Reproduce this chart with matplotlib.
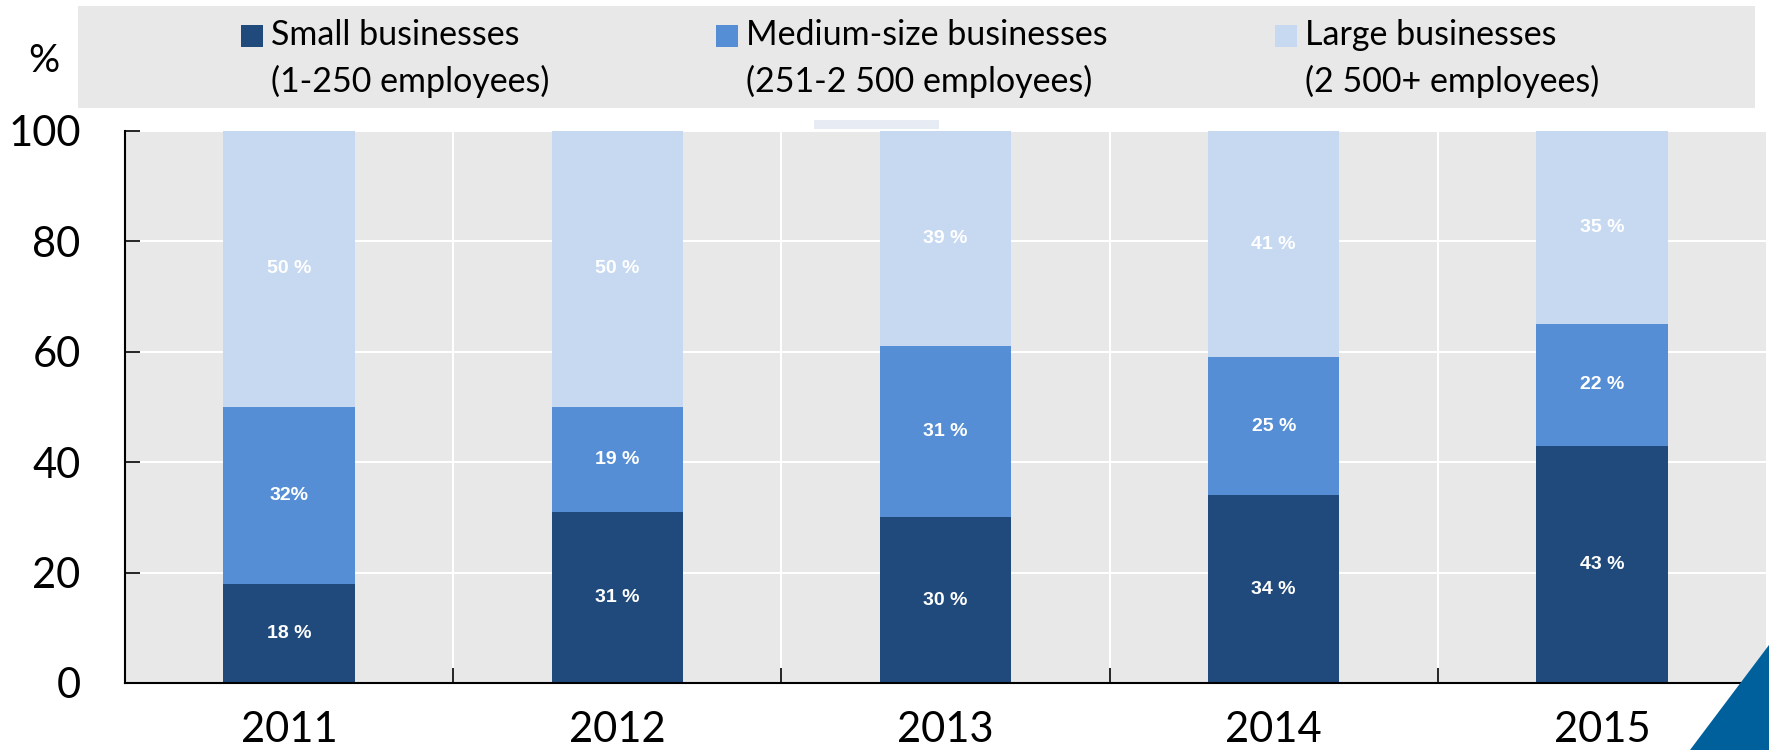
import matplotlib
matplotlib.use("Agg")
import matplotlib.pyplot as plt
from matplotlib.patches import Rectangle, Polygon
import numpy as np

years = ["2011", "2012", "2013", "2014", "2015"]
small = [18, 31, 30, 34, 43]
medium = [32, 19, 31, 25, 22]
large = [50, 50, 39, 41, 35]
small_labels = ["18 %", "31 %", "30 %", "34 %", "43 %"]
medium_labels = ["32%", "19 %", "31 %", "25 %", "22 %"]
large_labels = ["50 %", "50 %", "39 %", "41 %", "35 %"]
series_names = ["Small businesses\n(1-250 employees)",
                "Medium-size businesses\n(251-2 500 employees)",
                "Large businesses\n(2 500+ employees)"]
yticks = [0, 20, 40, 60, 80, 100]

c_small = "#204a7c"
c_med = "#558ed5"
c_large = "#c6d9f1"
bg = "#e8e8e8"

W, H = 1769, 750
fig = plt.figure(figsize=(W / 100, H / 100), dpi=100)
fig.patch.set_facecolor("white")

FONT = "Lato"

def fx(px):
    return px / W

def fy(py):
    return 1 - py / H

ax = fig.add_axes([fx(125), fy(683), fx(1766) - fx(125), fy(131) - fy(683)])
ax.set_facecolor(bg)

x = np.arange(len(years))
w = 0.4
small_a = np.array(small)
med_a = np.array(medium)
large_a = np.array(large)
ax.bar(x, small_a, w, color=c_small, zorder=3)
ax.bar(x, med_a, w, bottom=small_a, color=c_med, zorder=3)
ax.bar(x, large_a, w, bottom=small_a + med_a, color=c_large, zorder=3)

lab_kw = dict(ha="center", va="center", color="white", fontsize=14,
              fontweight="bold", family="Liberation Sans", zorder=4)
for i in range(len(years)):
    ax.text(x[i], small_a[i] / 2, small_labels[i], **lab_kw)
    ax.text(x[i], small_a[i] + med_a[i] / 2, medium_labels[i], **lab_kw)
    ax.text(x[i], small_a[i] + med_a[i] + large_a[i] / 2, large_labels[i], **lab_kw)

ax.set_xlim(-0.5, len(years) - 0.5)
ax.set_ylim(0, 100)
ax.set_yticks(yticks)
ax.set_yticklabels([str(v) for v in yticks], fontsize=30, family=FONT)
ax.set_xticks(x)
ax.set_xticklabels(years, fontsize=30, family=FONT)
ax.set_xticks(np.arange(0.5, len(years) - 0.5, 1.0), minor=True)

ax.tick_params(axis="y", direction="in", length=10.8, width=1.2, pad=32, colors="black")
ax.tick_params(axis="x", which="major", length=0, pad=20)
ax.tick_params(axis="x", which="minor", direction="in", length=10.8, width=1.2, color="black")

ax.grid(axis="y", which="major", color="white", lw=1.5, zorder=1)
ax.grid(axis="x", which="minor", color="white", lw=1.5, zorder=1)
ax.set_axisbelow(True)

for s in ["top", "right"]:
    ax.spines[s].set_visible(False)
for s in ["left", "bottom"]:
    ax.spines[s].set_color("black")
    ax.spines[s].set_linewidth(1.5)
    ax.spines[s].set_zorder(5)

# "%" unit label
fig.text(fx(44), fy(61), "%", fontsize=28, family=FONT, ha="center", va="center")

# legend background box
fig.patches.append(Rectangle((fx(78), fy(108)), fx(1755) - fx(78), fy(6) - fy(108),
                             transform=fig.transFigure, facecolor=bg, edgecolor="none", zorder=0))
# small artifact strip
fig.patches.append(Rectangle((fx(814), fy(129)), fx(939) - fx(814), fy(120) - fy(129),
                             transform=fig.transFigure, facecolor="#e6ebf4", edgecolor="none", zorder=0))

handle_x = [241, 716, 1275]
text_x = [271, 746, 1305]
colors = [c_small, c_med, c_large]
for hx, tx, col, name in zip(handle_x, text_x, colors, series_names):
    fig.patches.append(Rectangle((fx(hx), fy(47)), fx(22), 22 / H,
                                 transform=fig.transFigure, facecolor=col,
                                 edgecolor="none", zorder=1))
    l1, l2 = name.split("\n")
    fig.text(fx(tx), fy(35), l1, fontsize=24.5, family=FONT, ha="left", va="center")
    fig.text(fx(tx), fy(81), l2, fontsize=24.5, family=FONT, ha="left", va="center")

# corner triangle decoration
fig.patches.append(Polygon([(fx(1690), 0), (1, fy(645)), (1, 0)], closed=True,
                           transform=fig.transFigure, facecolor="#00609c",
                           edgecolor="none", zorder=0))

fig.savefig("out.png", dpi=100, facecolor="white")
